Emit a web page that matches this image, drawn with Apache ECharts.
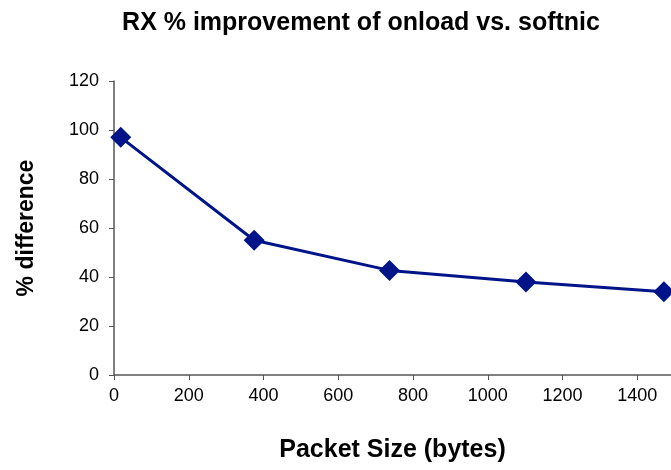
<!DOCTYPE html>
<html>
<head>
<meta charset="utf-8">
<script src="https://cdn.jsdelivr.net/npm/echarts@6/dist/echarts.min.js"></script>
<style>
  html, body { margin: 0; padding: 0; background: #fff; }
  #chart { width: 671px; height: 470px; }
</style>
</head>
<body>
<div id="chart"></div>
<script>
const packetSizes = [18, 375, 737, 1102, 1471];
const pctDifference = [97, 55, 42.7, 38, 34];
const yTicks = [0, 20, 40, 60, 80, 100, 120];

const chart = echarts.init(document.getElementById("chart"));

const font = "'Liberation Sans', Arial, sans-serif";
const axisColor = "#555";

chart.setOption({
  backgroundColor: "#fff",
  animation: false,
  title: {
    text: "RX % improvement of onload vs. softnic",
    left: 356,
    top: 6,
    textAlign: "center",
    textStyle: { fontFamily: font, fontSize: 25, fontWeight: "bold", color: "#000" },
  },
  grid: { left: 114, right: 0, top: 81, bottom: 95 },
  xAxis: {
    type: "value",
    min: 0,
    max: 1490,
    interval: 200,
    name: "Packet Size (bytes)",
    nameLocation: "middle",
    nameGap: 63,
    nameTextStyle: { fontFamily: font, fontSize: 25, fontWeight: "bold", color: "#000" },
    axisLine: { show: true, lineStyle: { color: axisColor, width: 1.5 } },
    axisTick: { show: true, length: 5, lineStyle: { color: axisColor } },
    axisLabel: {
      fontFamily: font, fontSize: 18, color: "#000", margin: 12, showMaxLabel: false,
      formatter: (v) => String(v),
    },
    splitLine: { show: false },
  },
  yAxis: {
    type: "value",
    min: yTicks[0],
    max: yTicks[yTicks.length - 1],
    interval: yTicks[1] - yTicks[0],
    name: "% difference",
    nameLocation: "middle",
    nameGap: 76,
    nameTextStyle: { fontFamily: font, fontSize: 23, fontWeight: "bold", color: "#000" },
    axisLine: { show: true, lineStyle: { color: axisColor, width: 1.5 } },
    axisTick: { show: true, length: 5, lineStyle: { color: axisColor } },
    axisLabel: { fontFamily: font, fontSize: 18, color: "#000", margin: 15 },
    splitLine: { show: false },
  },
  series: [
    {
      type: "line",
      data: packetSizes.map((x, i) => [x, pctDifference[i]]),
      symbol: "diamond",
      symbolSize: [21, 21],
      lineStyle: { color: "#001489", width: 3 },
      itemStyle: { color: "#001489" },
      clip: false,
    },
  ],
});
</script>
</body>
</html>
